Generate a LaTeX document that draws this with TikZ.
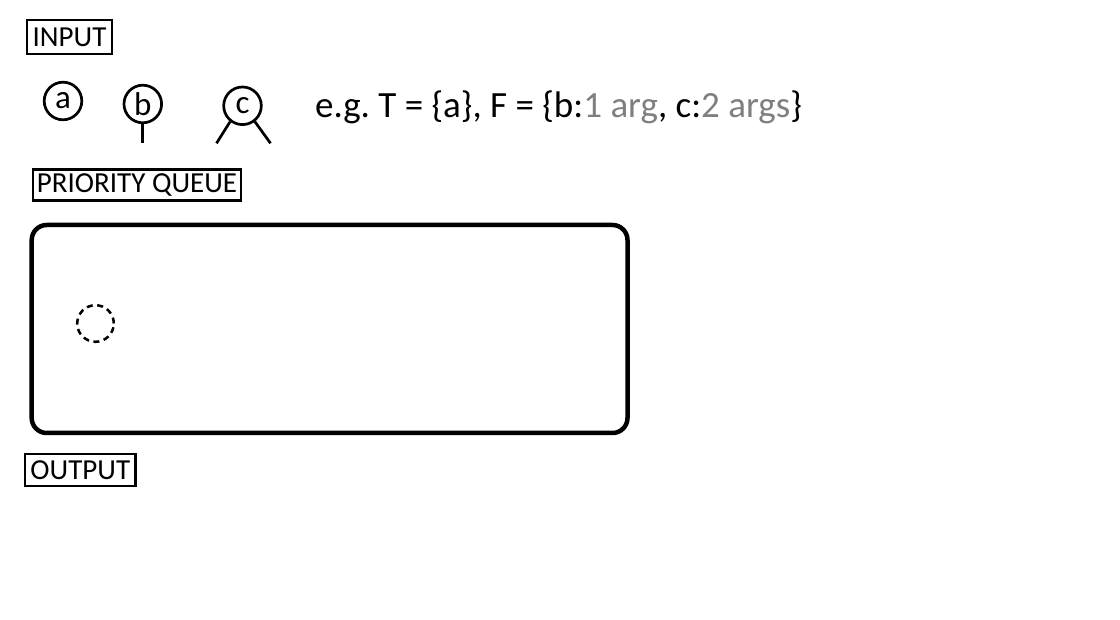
\documentclass[tikz,border=0pt]{standalone}
\usepackage{fontspec}
\setmainfont{Carlito}
\definecolor{argsgray}{RGB}{127,127,127}
\begin{document}
\frenchspacing
\begin{tikzpicture}[x=1pt,y=-1pt,
  labelbox/.style={draw=black,line width=2.3pt,inner sep=0pt,font=\fontsize{29}{32}\selectfont},
  sym/.style={circle,draw=black,line width=2.7pt,minimum size=37.6pt,inner sep=0pt,font=\fontsize{33}{35}\selectfont},
  stem/.style={line width=2.7pt},
  queue/.style={draw=black,line width=4.5pt,rounded corners=15pt,inner sep=0pt},
  slot/.style={circle,draw=black,line width=2.5pt,dash pattern=on 6pt off 4.5pt,minimum size=36.6pt,inner sep=0pt}
]
\useasboundingbox (0,0) rectangle (1120,620);
\node[labelbox,minimum width=85.2pt,minimum height=33.6pt] (input) at (69.5,37) {INPUT};
\node[labelbox,minimum width=208.3pt,minimum height=31.1pt] (pqlabel) at (137,185) {PRIORITY QUEUE};
\node[labelbox,minimum width=110.4pt,minimum height=31.7pt] (output) at (80.3,470) {OUTPUT};

\node[sym] (a) at (63,101) {a};
\node[sym] (b) at (142.8,104) {b};
\node[sym] (c) at (242.5,105.8) {c};
\coordinate (bend) at (142.8,143);
\coordinate (cl) at (216.5,143.3);
\coordinate (cr) at (270.5,143.3);
\draw[stem] (b.south) -- (bend);
\draw[stem] (c.232) -- (cl);
\draw[stem] (c.308) -- (cr);

\node[anchor=base west,inner sep=0pt,font=\fontsize{37}{40}\selectfont] (eg) at (315,118)
  {e.g. T = \{a\}, F = \{b:\textcolor{argsgray}{1 arg}, c:\textcolor{argsgray}{2 args}\}};

\node[queue,minimum width=595.8pt,minimum height=208pt] (pq) at (329.6,329) {};
\node[slot] (slot) at (95.5,323.5) {};
\end{tikzpicture}
\end{document}
